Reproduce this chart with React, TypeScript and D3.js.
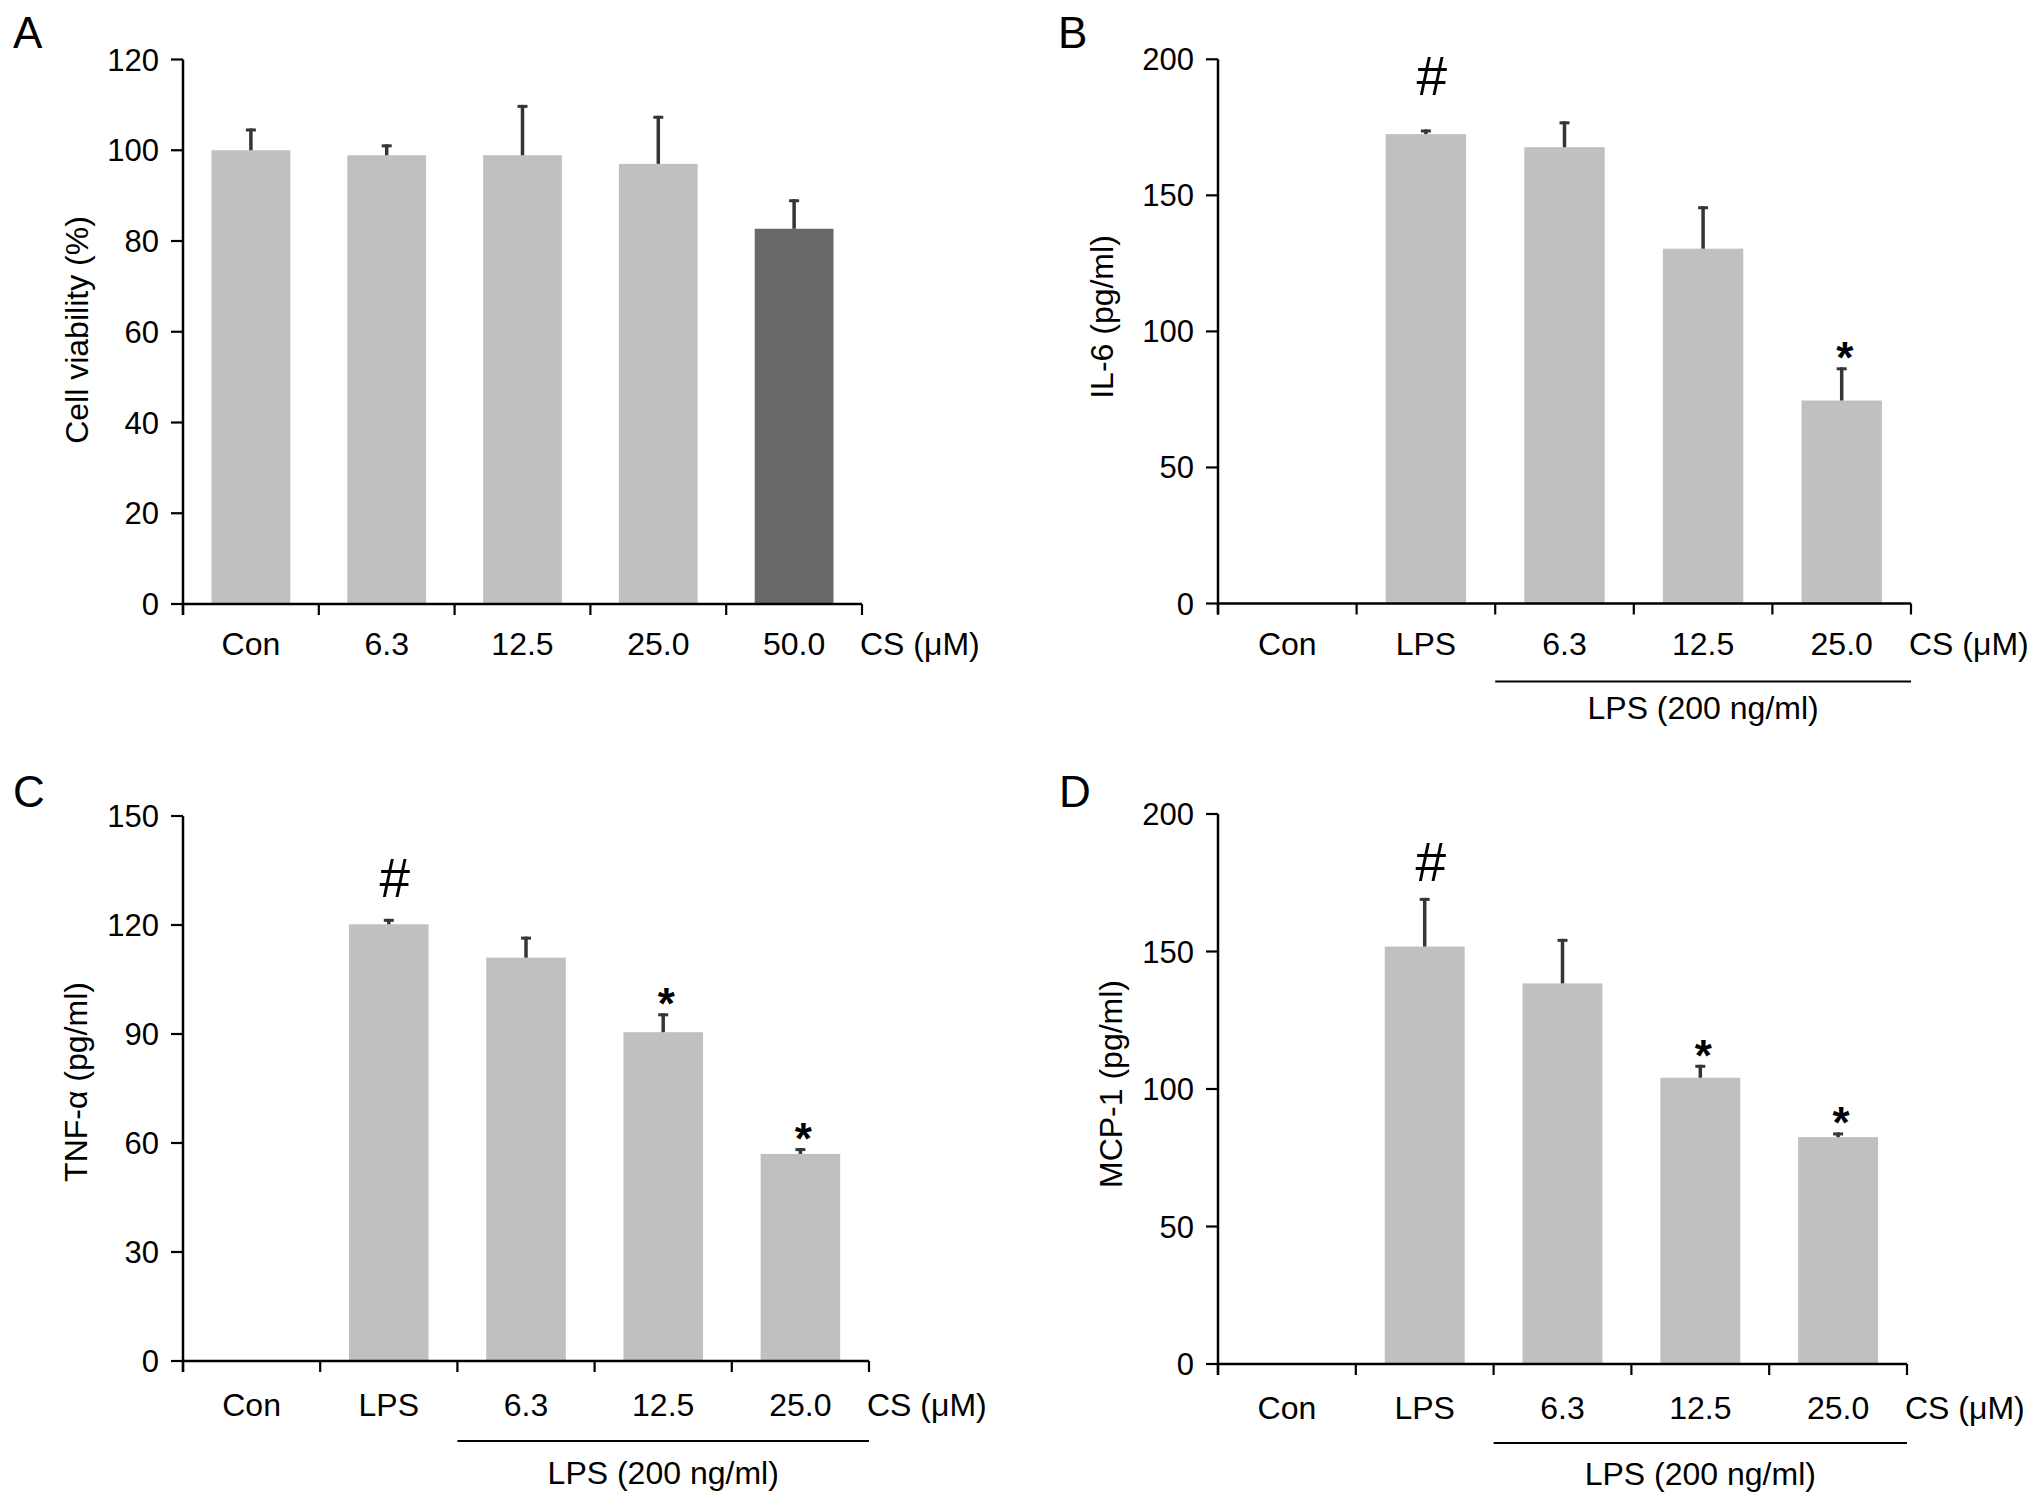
import React from 'react';
import * as d3 from 'd3';

// categories
const doseCats = ['Con', '6.3', '12.5', '25.0', '50.0'];
const lpsCats = ['Con', 'LPS', '6.3', '12.5', '25.0'];

// panel A - cell viability (%)
const viability = [100, 98.9, 98.9, 97, 82.7];
const viabilityErr = [4.8, 2.4, 11.1, 10.6, 6.5];
const viabilityTicks = [0, 20, 40, 60, 80, 100, 120];

// panel B - IL-6 (pg/ml)
const il6 = [null, 172.5, 167.7, 130.4, 74.6];
const il6Err = [null, 1.7, 9.5, 15.6, 12.2];
const il6Ticks = [0, 50, 100, 150, 200];

// panel C - TNF-a (pg/ml)
const tnf = [null, 120.2, 111, 90.5, 57];
const tnfErr = [null, 1.5, 5.8, 5.2, 1.6];
const tnfTicks = [0, 30, 60, 90, 120, 150];

// panel D - MCP-1 (pg/ml)
const mcp = [null, 151.8, 138.4, 104.1, 82.5];
const mcpErr = [null, 17.7, 16.2, 4.7, 1.7];
const mcpTicks = [0, 50, 100, 150, 200];

// significance marks (# sits at a fixed value, * sits on top of the error bar)
const il6Marks = [{ cat: 'LPS', sym: '#', at: 187 }, { cat: '25.0', sym: '*' }];
const tnfMarks = [{ cat: 'LPS', sym: '#', at: 127.8 }, { cat: '12.5', sym: '*' }, { cat: '25.0', sym: '*' }];
const mcpMarks = [{ cat: 'LPS', sym: '#', at: 175.5 }, { cat: '12.5', sym: '*' }, { cat: '25.0', sym: '*' }];

const FONT = '"Liberation Sans", Arial, Helvetica, sans-serif';
const LIGHT = '#c0c0c0';
const DARK = '#686868';
const ERR = '#353535';

type Mark = { cat: string; sym: string; at?: number };

type PanelProps = {
  letter: string;
  letterX: number;
  letterY: number;
  x0: number;
  x1: number;
  yTop: number;
  yZero: number;
  ticks: number[];
  cats: string[];
  values: (number | null)[];
  errs: (number | null)[];
  colors?: string[];
  ylabel: string;
  ylabelX: number;
  ylabelY: number;
  marks?: Mark[];
  bracket?: boolean;
  tickDy: number;
  bracketDy: number;
  bracketLabelDy: number;
};

function Panel(p: PanelProps) {
  const x = d3.scaleBand<string>()
    .domain(p.cats)
    .range([p.x0, p.x1])
    .paddingInner(0.42)
    .paddingOuter(0.21);
  const yMax = p.ticks[p.ticks.length - 1];
  const y = d3.scaleLinear().domain([0, yMax]).range([p.yZero, p.yTop]);
  const step = x.step();
  const bounds = d3.range(p.cats.length + 1).map(i => p.x0 + i * step);
  const bw = x.bandwidth();
  const cx = (c: string) => (x(c) as number) + bw / 2;

  return (
    <g>
      <text x={p.letterX} y={p.letterY} fontSize={44} fontFamily={FONT}>{p.letter}</text>

      {/* bars */}
      {p.cats.map((c, i) => {
        const v = p.values[i];
        if (v == null) return null;
        return (
          <rect key={'b' + c} x={x(c)} y={y(v)} width={bw} height={p.yZero - y(v)}
            fill={p.colors ? p.colors[i] : LIGHT} />
        );
      })}

      {/* error bars (upper only) */}
      {p.cats.map((c, i) => {
        const v = p.values[i];
        const e = p.errs[i];
        if (v == null || e == null) return null;
        const top = y(v + e);
        return (
          <g key={'e' + c}>
            <line x1={cx(c)} x2={cx(c)} y1={y(v)} y2={top} stroke={ERR} strokeWidth={3.5} />
            <line x1={cx(c) - 5} x2={cx(c) + 5} y1={top + 1.5} y2={top + 1.5} stroke={ERR} strokeWidth={3} />
          </g>
        );
      })}

      {/* marks */}
      {(p.marks || []).map((m, i) => {
        const idx = p.cats.indexOf(m.cat);
        const v = p.values[idx] as number;
        const e = (p.errs[idx] || 0) as number;
        if (m.sym === '#') {
          return (
            <text key={'m' + i} x={cx(m.cat) + 6} y={y(m.at as number)} textAnchor="middle"
              fontSize={55} fontFamily={FONT}>#</text>
          );
        }
        return (
          <text key={'m' + i} x={cx(m.cat) + 3} y={y(v + e) + 6} textAnchor="middle"
            fontSize={44} fontWeight="bold" fontFamily={FONT}>*</text>
        );
      })}

      {/* y axis */}
      <line x1={p.x0} x2={p.x0} y1={p.yTop} y2={p.yZero + 11} stroke="#000" strokeWidth={2.5} />
      {p.ticks.map(t => (
        <g key={'yt' + t}>
          <line x1={p.x0 - 12} x2={p.x0} y1={y(t)} y2={y(t)} stroke="#000" strokeWidth={2.2} />
          <text x={p.x0 - 24} y={y(t) + 11} textAnchor="end" fontSize={31} fontFamily={FONT}>{t}</text>
        </g>
      ))}

      {/* x axis */}
      <line x1={p.x0} x2={p.x1} y1={p.yZero} y2={p.yZero} stroke="#000" strokeWidth={2.5} />
      {bounds.map((b, i) => (
        <line key={'xt' + i} x1={b} x2={b} y1={p.yZero} y2={p.yZero + 11} stroke="#000" strokeWidth={2.2} />
      ))}
      {p.cats.map(c => (
        <text key={'xl' + c} x={cx(c)} y={p.yZero + p.tickDy} textAnchor="middle" fontSize={32} fontFamily={FONT}>{c}</text>
      ))}
      <text x={p.x1 - 2} y={p.yZero + p.tickDy} fontSize={32} fontFamily={FONT}>CS (μM)</text>

      {p.bracket && (
        <g>
          <line x1={bounds[2]} x2={bounds[5]} y1={p.yZero + p.bracketDy} y2={p.yZero + p.bracketDy}
            stroke="#000" strokeWidth={2.2} />
          <text x={(bounds[2] + bounds[5]) / 2} y={p.yZero + p.bracketLabelDy} textAnchor="middle"
            fontSize={32} fontFamily={FONT}>LPS (200 ng/ml)</text>
        </g>
      )}

      {/* y label */}
      <text transform={`translate(${p.ylabelX},${p.ylabelY}) rotate(-90)`} textAnchor="middle"
        fontSize={32} fontFamily={FONT}>{p.ylabel}</text>
    </g>
  );
}

export default function App() {
  return (
    <svg width={2032} height={1498} style={{ position: 'absolute', left: 0, top: 0, background: '#fff' }}>
      <rect x={0} y={0} width={2032} height={1498} fill="#fff" />
      <Panel letter="A" letterX={13} letterY={48}
        x0={183} x1={862} yTop={59.5} yZero={604} ticks={viabilityTicks}
        cats={doseCats} values={viability} errs={viabilityErr}
        colors={[LIGHT, LIGHT, LIGHT, LIGHT, DARK]}
        ylabel="Cell viability (%)" ylabelX={88} ylabelY={330}
        tickDy={51} bracketDy={78} bracketLabelDy={115} />
      <Panel letter="B" letterX={1058} letterY={48}
        x0={1218} x1={1911} yTop={59.3} yZero={603.5} ticks={il6Ticks}
        cats={lpsCats} values={il6} errs={il6Err} marks={il6Marks} bracket
        ylabel="IL-6 (pg/ml)" ylabelX={1113} ylabelY={317}
        tickDy={51} bracketDy={78} bracketLabelDy={115} />
      <Panel letter="C" letterX={13} letterY={807}
        x0={183} x1={869} yTop={816} yZero={1361} ticks={tnfTicks}
        cats={lpsCats} values={tnf} errs={tnfErr} marks={tnfMarks} bracket
        ylabel="TNF-α (pg/ml)" ylabelX={87} ylabelY={1082}
        tickDy={55} bracketDy={80} bracketLabelDy={123} />
      <Panel letter="D" letterX={1059} letterY={807}
        x0={1218} x1={1907} yTop={814} yZero={1364} ticks={mcpTicks}
        cats={lpsCats} values={mcp} errs={mcpErr} marks={mcpMarks} bracket
        ylabel="MCP-1 (pg/ml)" ylabelX={1122} ylabelY={1084}
        tickDy={55} bracketDy={79} bracketLabelDy={121} />
    </svg>
  );
}
